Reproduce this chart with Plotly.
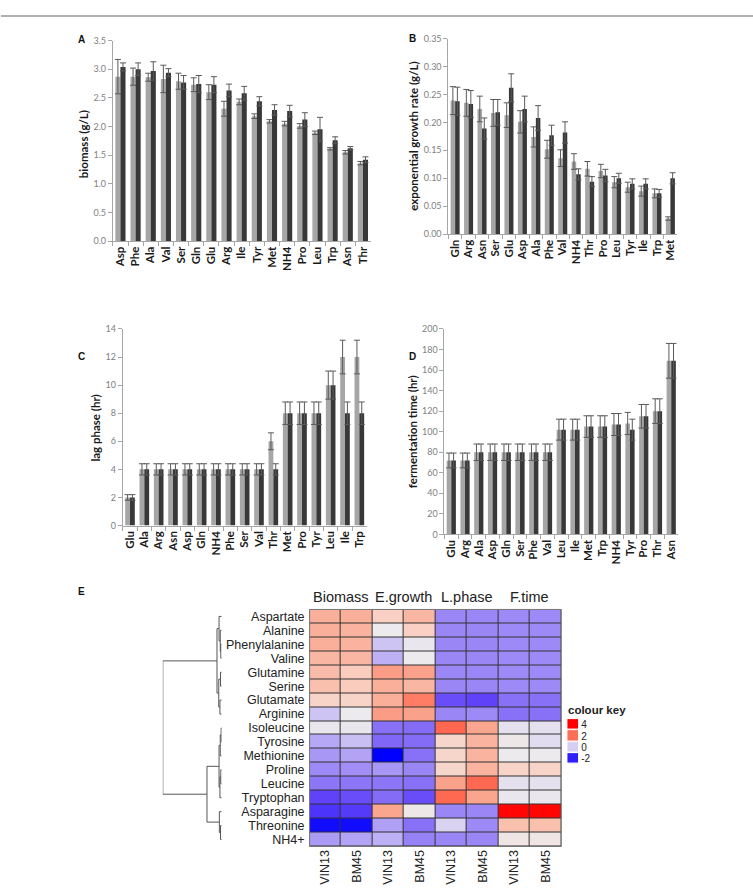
import plotly.graph_objects as go

W, H = 753, 892

# ---------------- Panel A: biomass ----------------
cats_a = ["Asp", "Phe", "Ala", "Val", "Ser", "Gln", "Glu", "Arg", "Ile", "Tyr", "Met", "NH4", "Pro", "Leu", "Trp", "Asn", "Thr"]
biomass_vin13 = [2.87, 2.87, 2.86, 2.83, 2.79, 2.73, 2.60, 2.31, 2.43, 2.18, 2.09, 2.05, 2.01, 1.89, 1.61, 1.55, 1.36]
biomass_vin13_err = [0.30, 0.15, 0.07, 0.24, 0.14, 0.12, 0.13, 0.13, 0.05, 0.04, 0.03, 0.04, 0.04, 0.03, 0.02, 0.03, 0.03]
biomass_bm45 = [3.04, 3.00, 2.97, 2.94, 2.77, 2.74, 2.73, 2.63, 2.58, 2.44, 2.29, 2.27, 2.12, 1.95, 1.76, 1.62, 1.42]
biomass_bm45_err = [0.07, 0.11, 0.16, 0.07, 0.12, 0.15, 0.14, 0.11, 0.12, 0.08, 0.09, 0.10, 0.12, 0.21, 0.06, 0.03, 0.05]

# ---------------- Panel B: exponential growth rate ----------------
cats_b = ["Gln", "Arg", "Asn", "Ser", "Glu", "Asp", "Ala", "Phe", "Val", "NH4", "Thr", "Pro", "Leu", "Tyr", "Ile", "Trp", "Met"]
growth_vin13 = [0.239, 0.235, 0.224, 0.217, 0.213, 0.201, 0.174, 0.152, 0.136, 0.130, 0.117, 0.113, 0.093, 0.084, 0.077, 0.073, 0.028]
growth_vin13_err = [0.025, 0.024, 0.023, 0.024, 0.022, 0.020, 0.018, 0.016, 0.015, 0.014, 0.013, 0.012, 0.010, 0.009, 0.009, 0.008, 0.003]
growth_bm45 = [0.238, 0.233, 0.189, 0.218, 0.262, 0.224, 0.208, 0.177, 0.182, 0.107, 0.094, 0.105, 0.100, 0.090, 0.090, 0.073, 0.100]
growth_bm45_err = [0.025, 0.024, 0.019, 0.023, 0.025, 0.023, 0.022, 0.018, 0.019, 0.010, 0.009, 0.011, 0.009, 0.009, 0.009, 0.007, 0.010]

# ---------------- Panel C: lag phase ----------------
cats_c = ["Glu", "Ala", "Arg", "Asn", "Asp", "Gln", "NH4", "Phe", "Ser", "Val", "Thr", "Met", "Pro", "Tyr", "Leu", "Ile", "Trp"]
lag_vin13 = [2, 4, 4, 4, 4, 4, 4, 4, 4, 4, 6, 8, 8, 8, 10, 12, 12]
lag_vin13_err = [0.2, 0.4, 0.4, 0.4, 0.4, 0.4, 0.4, 0.4, 0.4, 0.4, 0.6, 0.8, 0.8, 0.8, 1.0, 1.2, 1.2]
lag_bm45 = [2, 4, 4, 4, 4, 4, 4, 4, 4, 4, 4, 8, 8, 8, 10, 8, 8]
lag_bm45_err = [0.2, 0.4, 0.4, 0.4, 0.4, 0.4, 0.4, 0.4, 0.4, 0.4, 0.4, 0.8, 0.8, 0.8, 1.0, 0.8, 0.8]

# ---------------- Panel D: fermentation time ----------------
cats_d = ["Glu", "Arg", "Ala", "Asp", "Gln", "Ser", "Phe", "Val", "Leu", "Ile", "Met", "Trp", "NH4", "Tyr", "Pro", "Thr", "Asn"]
ferm_vin13 = [72, 72, 80, 80, 80, 80, 80, 80, 102, 102, 105, 105, 107, 108, 115, 120, 169]
ferm_vin13_err = [7.2, 7.2, 8, 8, 8, 8, 8, 8, 10.2, 10.2, 10.5, 10.5, 10.7, 10.8, 11.5, 12, 16.9]
ferm_bm45 = [72, 72, 80, 80, 80, 80, 80, 80, 102, 102, 105, 105, 107, 102, 115, 120, 169]
ferm_bm45_err = [7.2, 7.2, 8, 8, 8, 8, 8, 8, 10.2, 10.2, 10.5, 10.5, 10.7, 10.2, 11.5, 12, 16.9]

# ---------------- Panel E: heatmap (z-scores) ----------------
heat_rows = ["Aspartate", "Alanine", "Phenylalanine", "Valine", "Glutamine", "Serine", "Glutamate", "Arginine",
             "Isoleucine", "Tyrosine", "Methionine", "Proline", "Leucine", "Tryptophan", "Asparagine", "Threonine", "NH4+"]
heat_cols = ["VIN13", "BM45", "VIN13", "BM45", "VIN13", "BM45", "VIN13", "BM45"]
heat_groups = ["Biomass", "E.growth", "L.phase", "F.time"]
z_biomass_vin13 = [1.3, 1.3, 1.3, 1.2, 1.15, 1.1, 0.85, -0.1, 0.35, -0.4, -0.6, -0.75, -0.95, -1.45, -1.65, -2.3, -0.55]
z_biomass_bm45 = [1.3, 1.25, 1.25, 1.2, 0.95, 0.95, 0.85, 0.4, 0.35, -0.15, -0.45, -0.7, -0.95, -1.35, -1.55, -2.3, -0.45]
z_growth_vin13 = [0.9, 0.4, -0.1, -0.3, 1.5, 1.3, 1.3, 1.5, -1.0, -1.1, -2.5, -0.6, -0.95, -1.05, 1.4, -0.5, -0.3]
z_growth_bm45 = [1.2, 0.9, 0.35, 0.4, 1.45, 1.2, 1.85, 1.45, -1.05, -1.05, -1.0, -0.8, -1.0, -1.35, 0.45, -1.0, -0.85]
z_lag_vin13 = [-0.8, -0.8, -0.8, -0.8, -0.8, -0.8, -1.35, -0.8, 2.15, 0.8, 0.8, 0.8, 1.45, 2.1, -0.8, 0.05, -0.8]
z_lag_bm45 = [-0.8, -0.8, -0.8, -0.8, -0.8, -0.8, -1.45, -0.75, 1.4, 1.25, 1.25, 1.25, 2.1, 1.4, -0.8, -0.75, -0.8]
z_ferm_vin13 = [-0.75, -0.75, -0.75, -0.75, -0.75, -0.75, -1.0, -1.0, 0.25, 0.45, 0.4, 0.85, 0.25, 0.35, 3.9, 1.1, 0.5]
z_ferm_bm45 = [-0.75, -0.75, -0.75, -0.75, -0.75, -0.75, -1.0, -1.0, 0.25, 0.2, 0.4, 0.85, 0.25, 0.35, 3.9, 1.1, 0.5]

# dendrogram merges: (left node, right node, height); leaves 0..16 in row order
dendrogram_merges = [
    (2, 3, 0.3), (1, 17, 0.5), (0, 18, 0.9), (4, 5, 0.4), (6, 7, 0.6), (20, 21, 1.0), (19, 22, 1.6),
    (8, 9, 0.2), (24, 10, 0.5), (11, 12, 0.3), (26, 13, 0.6), (25, 27, 0.9), (15, 16, 0.4), (14, 29, 0.8),
    (28, 30, 5.0), (23, 31, 20.0),
]

colour_key_values = [4, 2, 0, -2]

# ------------------------------------------------------------------
def px_x(x):
    return x / W

def px_y(y):
    return 1 - y / H

LIGHT = "#A6A6A6"
DARK = "#383838"
ERR = "#5A5A5A"

fig = go.Figure()

bar_panels = [
    ("x", "y", cats_a, biomass_vin13, biomass_vin13_err, biomass_bm45, biomass_bm45_err),
    ("x2", "y2", cats_b, growth_vin13, growth_vin13_err, growth_bm45, growth_bm45_err),
    ("x3", "y3", cats_c, lag_vin13, lag_vin13_err, lag_bm45, lag_bm45_err),
    ("x4", "y4", cats_d, ferm_vin13, ferm_vin13_err, ferm_bm45, ferm_bm45_err),
]
for xa, ya, cats, v1, e1, v2, e2 in bar_panels:
    fig.add_trace(go.Bar(x=cats, y=v1, name="VIN13", marker=dict(color=LIGHT, line=dict(width=0)),
                         error_y=dict(type="data", array=e1, color=ERR, thickness=1, width=3),
                         xaxis=xa, yaxis=ya, showlegend=False))
    fig.add_trace(go.Bar(x=cats, y=v2, name="BM45", marker=dict(color=DARK, line=dict(width=0)),
                         error_y=dict(type="data", array=e2, color=ERR, thickness=1, width=3),
                         xaxis=xa, yaxis=ya, showlegend=False))

# heatmap
z = [[z_biomass_vin13[i], z_biomass_bm45[i], z_growth_vin13[i], z_growth_bm45[i],
      z_lag_vin13[i], z_lag_bm45[i], z_ferm_vin13[i], z_ferm_bm45[i]] for i in range(len(heat_rows))]

ZMIN, ZMAX = -2.5, 4.0
stops = [(-2.5, "#0000FF"), (-1.5, "#5B3DF9"), (-0.8, "#9B86F6"), (-0.3, "#BDB0F4"), (0.0, "#D6CEF2"),
         (0.4, "#ECEAEC"), (0.9, "#F9D0C3"), (1.3, "#F9AF99"), (2.0, "#FF6F56"), (4.0, "#FF0000")]
colorscale = [[(v - ZMIN) / (ZMAX - ZMIN), c] for v, c in stops]

fig.add_trace(go.Heatmap(z=z, x=list(range(len(heat_cols))), y=list(range(len(heat_rows))),
                         colorscale=colorscale, zmin=ZMIN, zmax=ZMAX, showscale=False,
                         xgap=1, ygap=1, xaxis="x5", yaxis="y5", hoverinfo="skip"))

# dendrogram lines
n = len(heat_rows)
pos = {i: float(i) for i in range(n)}
hgt = {i: 0.0 for i in range(n)}
dx, dy = [], []
for k, (a, b, h) in enumerate(dendrogram_merges):
    node = n + k
    dx += [hgt[a], h, h, hgt[b], None]
    dy += [pos[a], pos[a], pos[b], pos[b], None]
    pos[node] = (pos[a] + pos[b]) / 2
    hgt[node] = h
fig.add_trace(go.Scatter(x=dx, y=dy, mode="lines", line=dict(color="#555555", width=1),
                         xaxis="x6", yaxis="y6", showlegend=False, hoverinfo="skip"))

# colour key
fig.add_trace(go.Heatmap(z=[[v] for v in colour_key_values], x=[0], y=list(range(len(colour_key_values))),
                         colorscale=colorscale, zmin=ZMIN, zmax=ZMAX, showscale=False, ygap=1.5,
                         xaxis="x7", yaxis="y7", hoverinfo="skip"))

# ------------------------------------------------------------------
tick_grey = "#808080"
axis_grey = "#A6A6A6"

def bar_xaxis(dom, anchor, cats):
    return dict(domain=[px_x(dom[0]), px_x(dom[1])], anchor=anchor, type="category",
                tickmode="array", tickvals=cats, ticktext=cats,
                showline=True, linecolor=axis_grey, linewidth=1, ticks="outside", tickson="boundaries",
                ticklen=4, tickcolor=axis_grey, tickangle=-90, showgrid=False, zeroline=False,
                tickfont=dict(family="Lato", size=11.5, color="#1a1a1a", weight="bold"),
                range=[-0.5, 16.5], fixedrange=True)

def bar_yaxis(dom, anchor, rng, dtick, fmt):
    return dict(domain=[px_y(dom[1]), px_y(dom[0])], anchor=anchor, range=rng, dtick=dtick, tickformat=fmt,
                showline=True, linecolor=axis_grey, linewidth=1, ticks="outside", ticklen=4,
                tickcolor=axis_grey, showgrid=False, zeroline=False,
                tickfont=dict(family="Lato", size=9, color=tick_grey))

layout = dict(
    width=W, height=H, autosize=False,
    margin=dict(l=0, r=0, t=0, b=0),
    paper_bgcolor="white", plot_bgcolor="white",
    barmode="group", bargap=0.33, bargroupgap=0,
    showlegend=False,
    xaxis=bar_xaxis((112, 370), "y", cats_a),
    yaxis=bar_yaxis((35, 238), "x", [0, 3.5], 0.5, ".1f"),
    xaxis2=bar_xaxis((448, 677), "y2", cats_b),
    yaxis2=bar_yaxis((33, 231), "x2", [0, 0.35], 0.05, ".2f"),
    xaxis3=bar_xaxis((122, 366), "y3", cats_c),
    yaxis3=bar_yaxis((327, 526), "x3", [0, 14], 2, "d"),
    xaxis4=bar_xaxis((444, 678), "y4", cats_d),
    yaxis4=bar_yaxis((327, 535), "x4", [0, 200], 20, "d"),
    xaxis5=dict(domain=[px_x(309), px_x(561)], anchor="y5", range=[-0.5, 7.5],
                tickvals=list(range(len(heat_cols))), ticktext=heat_cols, tickangle=-90,
                showgrid=False, zeroline=False, showline=False, ticks="",
                tickfont=dict(family="Liberation Sans", size=12.5, color="#222222"), fixedrange=True),
    yaxis5=dict(domain=[px_y(851), px_y(611)], anchor="x5", range=[16.5, -0.5],
                tickvals=list(range(n)), ticktext=heat_rows, showgrid=False, zeroline=False,
                showline=False, ticks="", ticklabelstandoff=4,
                tickfont=dict(family="Liberation Sans", size=12.5, color="#222222"), fixedrange=True),
    xaxis6=dict(domain=[px_x(162), px_x(221)], anchor="y6", range=[20, 0], visible=False, fixedrange=True),
    yaxis6=dict(domain=[px_y(851), px_y(611)], anchor="x6", range=[16.5, -0.5], visible=False, fixedrange=True),
    xaxis7=dict(domain=[px_x(567), px_x(578)], anchor="y7", range=[-0.5, 0.5], visible=False, fixedrange=True),
    yaxis7=dict(domain=[px_y(768), px_y(722)], anchor="x7", range=[3.5, -0.5], side="right",
                tickvals=list(range(len(colour_key_values))), ticktext=[str(v) for v in colour_key_values],
                showgrid=False, zeroline=False, showline=False, ticks="", ticklabelstandoff=2,
                tickfont=dict(family="Liberation Sans", size=10, color="#222222"), fixedrange=True),
)

annotations = []
# panel letters
for letter, x, y in [("A", 81, 34), ("B", 412, 33), ("C", 81, 355), ("D", 412, 355), ("E", 81, 593)]:
    annotations.append(dict(text=letter, x=px_x(x), y=px_y(y), xref="paper", yref="paper",
                            xanchor="center", yanchor="middle", showarrow=False,
                            font=dict(family="Liberation Sans", size=10, color="#111111", weight="bold")))
# y-axis titles
for title, x, y in [("biomass (g/L)", 82, 140), ("exponential growth rate (g/L)", 413, 132),
                    ("lag phase (hr)", 95, 427), ("fermentation time (hr)", 412, 431)]:
    annotations.append(dict(text=title, x=px_x(x), y=px_y(y), xref="paper", yref="paper",
                            xanchor="center", yanchor="middle", textangle=-90, showarrow=False,
                            font=dict(family="Lato", size=11.5, color="#1a1a1a", weight="bold")))
# heatmap group titles
for gi, g in enumerate(heat_groups):
    annotations.append(dict(text=g, x=2 * gi + 0.5, y=px_y(598), xref="x5", yref="paper",
                            xanchor="center", yanchor="middle", showarrow=False,
                            font=dict(family="Liberation Sans", size=14.5, color="#222222")))
annotations.append(dict(text="colour key", x=px_x(566), y=px_y(713), xref="paper", yref="paper",
                        xanchor="left", yanchor="middle", showarrow=False,
                        font=dict(family="Liberation Sans", size=11.5, color="#222222", weight="bold")))
layout["annotations"] = annotations

layout["shapes"] = [
    dict(type="line", xref="paper", yref="paper", x0=0, x1=1, y0=px_y(10), y1=px_y(10),
         line=dict(color="#B0B0B0", width=2)),
    dict(type="rect", xref="x5 domain", yref="y5 domain", x0=0, x1=1, y0=0, y1=1,
         fillcolor="#333333", line=dict(width=0), layer="below"),
    dict(type="rect", xref="x5 domain", yref="y5 domain", x0=0, x1=1, y0=0, y1=1,
         fillcolor="rgba(0,0,0,0)", line=dict(color="#777777", width=1), layer="above"),
]

fig.update_layout(**layout)
fig.write_html("out.html")
